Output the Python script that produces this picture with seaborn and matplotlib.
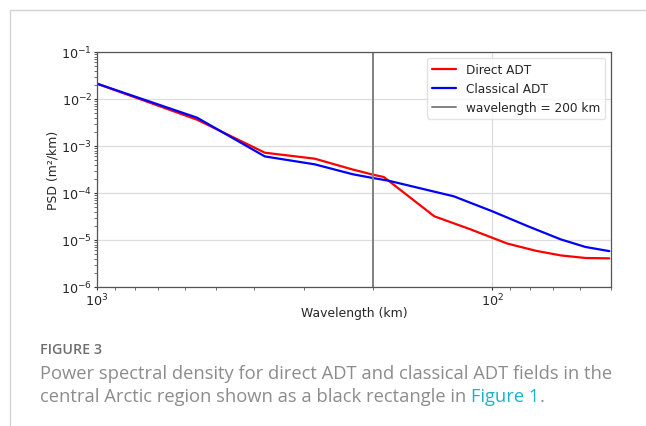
import matplotlib
matplotlib.use("Agg")
import matplotlib.pyplot as plt
import seaborn as sns
import pandas as pd
import numpy as np
from matplotlib.lines import Line2D

# ---- data ----
wavelength_direct = [1000, 558, 376, 281, 225, 200, 188, 140, 113.5, 100, 91.5, 77.5, 67, 58, 50.5]
psd_direct = [2.12e-2, 3.63e-3, 7.2e-4, 5.37e-4, 3.15e-4, 2.45e-4, 2.19e-4, 3.19e-5, 1.69e-5,
              1.12e-5, 8.4e-6, 5.9e-6, 4.7e-6, 4.14e-6, 4.07e-6]
wavelength_classical = [1000, 558, 376, 281, 225, 200, 183, 125, 100, 81, 67, 58, 50.5]
psd_classical = [2.12e-2, 4.0e-3, 6.0e-4, 4.07e-4, 2.5e-4, 2.08e-4, 1.83e-4, 8.5e-5, 4.1e-5,
                 1.95e-5, 1.03e-5, 7.1e-6, 5.8e-6]
series_names = ["Direct ADT", "Classical ADT"]
series_colors = ["red", "blue"]
cutoff_km = 200
x_label = "Wavelength (km)"
y_label = "PSD (m²/km)"
fig_label = "FIGURE 3"
caption_line1 = "Power spectral density for direct ADT and classical ADT fields in the"
caption_line2 = "central Arctic region shown as a black rectangle in "
caption_link = "Figure 1"

df = pd.concat([
    pd.DataFrame({"wavelength": wavelength_direct, "psd": psd_direct, "series": series_names[0]}),
    pd.DataFrame({"wavelength": wavelength_classical, "psd": psd_classical, "series": series_names[1]}),
], ignore_index=True)

sns.set_style("white")
plt.rcParams["font.family"] = ["DejaVu Sans"]

W, H = 646, 427
fig = plt.figure(figsize=(W / 100, H / 100), dpi=100)
ax = fig.add_axes([97 / W, 1 - 288 / H, (611 - 97) / W, (288 - 53) / H])

sns.lineplot(data=df, x="wavelength", y="psd", hue="series",
             palette=dict(zip(series_names, series_colors)), lw=1.6, ax=ax,
             sort=False, estimator=None)
ax.axvline(cutoff_km, color="gray", lw=1.4)

ax.set_xscale("log")
ax.set_yscale("log")
ax.set_xlim(1000, 50)
ax.set_ylim(1e-6, 1e-1)
ax.grid(True, which="major", color="#dddddd", lw=0.9)
ax.set_axisbelow(True)
for s in ax.spines.values():
    s.set_color("#555555")
    s.set_linewidth(0.9)
ax.tick_params(axis="both", which="major", labelsize=9.2, length=2.5, width=0.8, color="#333333", pad=1)
ax.tick_params(axis="both", which="minor", length=2, width=0.6, color="#555555")
ax.tick_params(bottom=True, left=True, which="both")
ax.set_xlabel(x_label, fontsize=8.9, labelpad=-2)
ax.set_ylabel(y_label, fontsize=8.9, labelpad=1)

handles = [Line2D([], [], color=c, lw=1.6) for c in series_colors]
handles.append(Line2D([], [], color="gray", lw=1.4))
labels = series_names + [f"wavelength = {cutoff_km} km"]
leg = ax.legend(handles, labels, loc="upper right", fontsize=8.7, frameon=True,
                handlelength=2.0, borderaxespad=0.5)
leg.get_frame().set_edgecolor("#dddddd")

# card border
fig.add_artist(Line2D([10 / W, 1], [1 - 11 / H, 1 - 11 / H], color="#d4d4d4", lw=1.0))
fig.add_artist(Line2D([10 / W, 10 / W], [0, 1 - 11 / H], color="#d4d4d4", lw=1.0))

# caption
cap_font = ["Open Sans", "DejaVu Sans"]
cap_size = 13.2
fig.text(40 / W, 1 - 354 / H, fig_label, fontsize=10.3, color="#6f6f6f",
         family=cap_font, fontweight="semibold", va="baseline")
fig.text(40 / W, 1 - 379 / H, caption_line1, fontsize=cap_size, color="#8c8c8c",
         family=cap_font, va="baseline")
t2 = fig.text(40 / W, 1 - 402 / H, caption_line2, fontsize=cap_size, color="#8c8c8c",
              family=cap_font, va="baseline")
fig.canvas.draw()
r = fig.canvas.get_renderer()
bb = t2.get_window_extent(r)
t3 = fig.text(bb.x1 / W, 1 - 402 / H, caption_link, fontsize=cap_size, color="#1cb3c8",
              family=cap_font, va="baseline")
bb3 = t3.get_window_extent(r)
fig.text(bb3.x1 / W, 1 - 402 / H, ".", fontsize=cap_size, color="#8c8c8c",
         family=cap_font, va="baseline")

fig.savefig("out.png", dpi=100)
